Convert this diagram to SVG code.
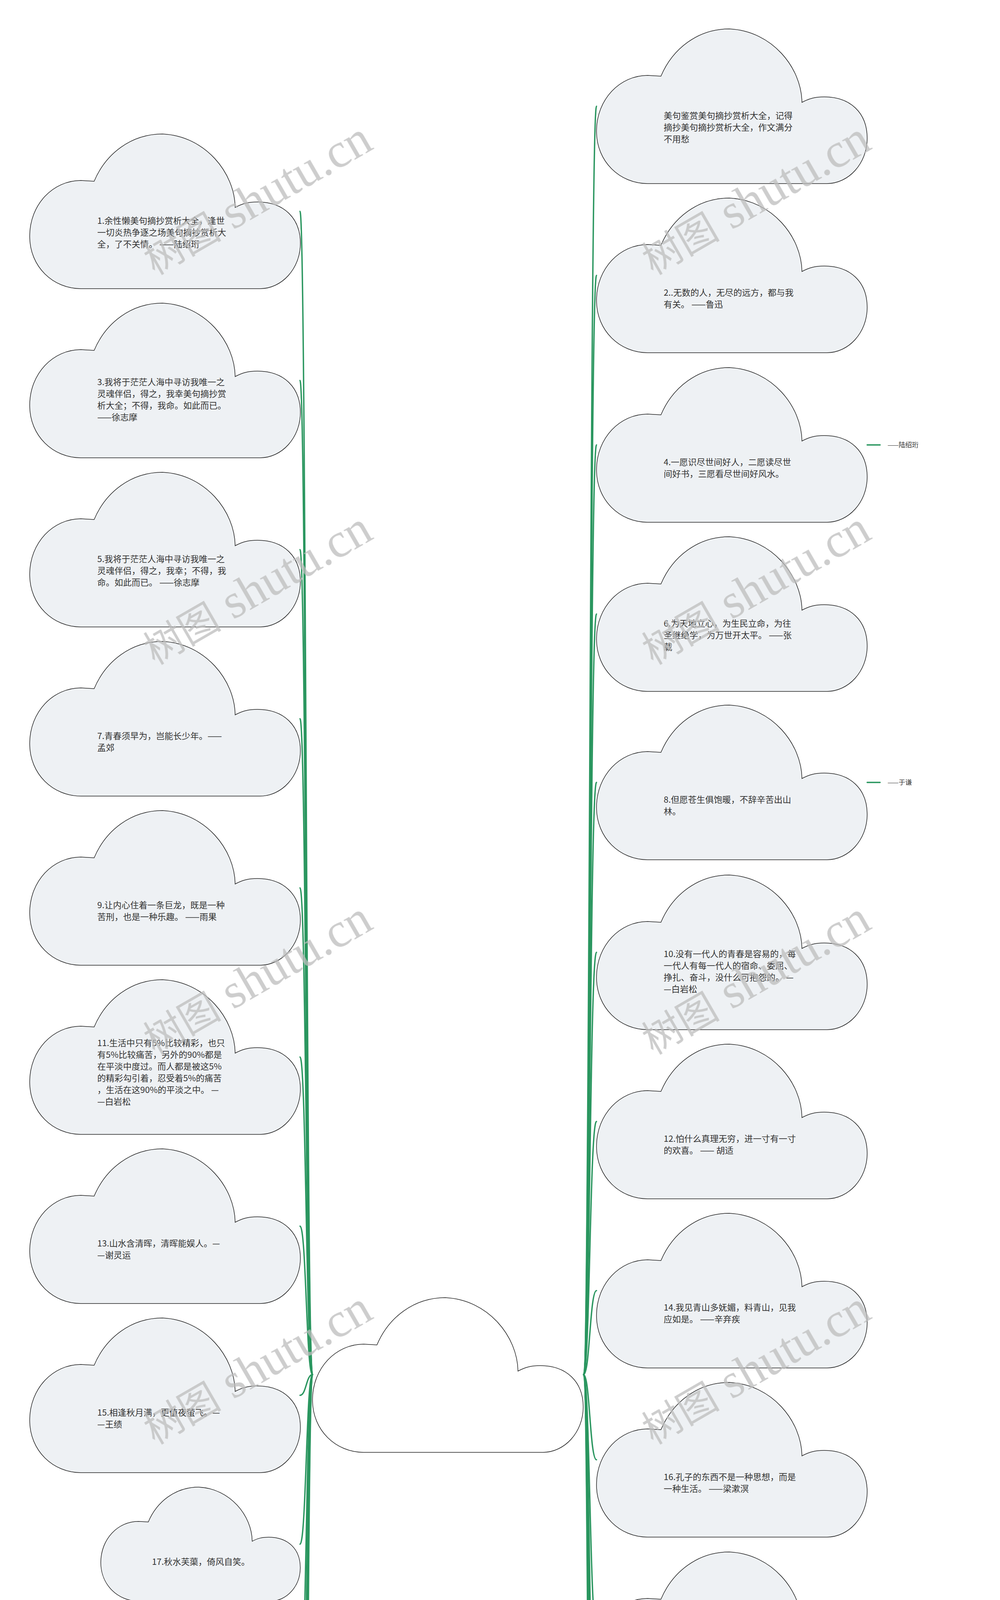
<svg xmlns="http://www.w3.org/2000/svg" xmlns:xlink="http://www.w3.org/1999/xlink" width="2560" height="7040" viewBox="0 0 2560 7040">
<style>
.cl{fill:#eef1f4;stroke:#222;stroke-width:1.5}
.root{fill:#ffffff;stroke:#222;stroke-width:1.5}
.t{font-family:"Noto Sans CJK SC","Liberation Sans",sans-serif;font-size:22px;fill:#333}
.ct{font-family:"Noto Sans CJK SC","Liberation Sans",sans-serif;font-size:17px;fill:#333}
.ln{fill:none;stroke:#2a965f;stroke-width:3.5;stroke-linecap:round}
.wm{fill:#bdbdbd;opacity:0.75}
.wc{font-family:"Noto Sans CJK SC",sans-serif;font-size:100px}
.wl{font-family:"Liberation Serif",serif;font-size:125px}
</style>
<defs>
<path id="cloud" d="M131,396 C60,396 0,340 0,262 C0,180 60,119 131,119 L165,121 C195,50 260,0 340,0 C450,5 525,100 526,188 C545,178 560,174 583,174 C650,174 693,215 693,280 C693,345 645,396 590,396 Z"/>
</defs>
<rect width="2560" height="7040" fill="#ffffff"/>
<g id="connectors">
<path class="ln" d="M800,3519 C784,3519 784,541 768,541"/>
<path class="ln" d="M800,3519 C784,3519 784,974 768,974"/>
<path class="ln" d="M800,3519 C784,3519 784,1407 768,1407"/>
<path class="ln" d="M800,3519 C784,3519 784,1840 768,1840"/>
<path class="ln" d="M800,3519 C784,3519 784,2273 768,2273"/>
<path class="ln" d="M800,3519 C784,3519 784,2706 768,2706"/>
<path class="ln" d="M800,3519 C784,3519 784,3139 768,3139"/>
<path class="ln" d="M800,3519 C784,3519 784,3572 768,3572"/>
<path class="ln" d="M800,3519 C784,3519 784,3953 768,3953"/>
<path class="ln" d="M800,3519 C784,3519 784,4335 768,4335"/>
<path class="ln" d="M800,3519 C784,3519 784,4768 768,4768"/>
<path class="ln" d="M800,3519 C784,3519 784,5201 768,5201"/>
<path class="ln" d="M800,3519 C784,3519 784,5634 768,5634"/>
<path class="ln" d="M800,3519 C784,3519 784,6067 768,6067"/>
<path class="ln" d="M800,3519 C784,3519 784,6500 768,6500"/>
<path class="ln" d="M1494,3519 C1510,3519 1510,272 1527,272"/>
<path class="ln" d="M1494,3519 C1510,3519 1510,705 1527,705"/>
<path class="ln" d="M1494,3519 C1510,3519 1510,1139 1527,1139"/>
<path class="ln" d="M1494,3519 C1510,3519 1510,1572 1527,1572"/>
<path class="ln" d="M1494,3519 C1510,3519 1510,2003 1527,2003"/>
<path class="ln" d="M1494,3519 C1510,3519 1510,2438 1527,2438"/>
<path class="ln" d="M1494,3519 C1510,3519 1510,2871 1527,2871"/>
<path class="ln" d="M1494,3519 C1510,3519 1510,3304 1527,3304"/>
<path class="ln" d="M1494,3519 C1510,3519 1510,3737 1527,3737"/>
<path class="ln" d="M1494,3519 C1510,3519 1510,4171 1527,4171"/>
<path class="ln" d="M1494,3519 C1510,3519 1510,4603 1527,4603"/>
<path class="ln" d="M1494,3519 C1510,3519 1510,5034 1527,5034"/>
<path class="ln" d="M1494,3519 C1510,3519 1510,5468 1527,5468"/>
<path class="ln" d="M1494,3519 C1510,3519 1510,5901 1527,5901"/>
<path class="ln" d="M1494,3519 C1510,3519 1510,6335 1527,6335"/>
<path class="ln" d="M1494,3519 C1510,3519 1510,6768 1527,6768"/>
<path class="ln" d="M2220,1139 L2253,1139"/>
<path class="ln" d="M2220,2003 L2253,2003"/>
<path class="ln" d="M2220,6335 L2253,6335"/>
</g>
<g id="root"><use xlink:href="#cloud" href="#cloud" class="root" transform="translate(800,3322)"/></g>

<g id="node-1"><use href="#cloud" class="cl" transform="translate(76,343)"/>
<text class="t" x="249" y="573"><tspan x="249">1.余性懒美句摘抄赏析大全，逢世</tspan><tspan x="249" dy="30">一切炎热争逐之场美句摘抄赏析大</tspan><tspan x="249" dy="30">全，了不关情。 ——陆绍珩</tspan></text></g>
<g id="node-3"><use href="#cloud" class="cl" transform="translate(76,776)"/>
<text class="t" x="249" y="986"><tspan x="249">3.我将于茫茫人海中寻访我唯一之</tspan><tspan x="249" dy="30">灵魂伴侣，得之，我幸美句摘抄赏</tspan><tspan x="249" dy="30">析大全；不得，我命。如此而已。</tspan><tspan x="249" dy="30">——徐志摩</tspan></text></g>
<g id="node-5"><use href="#cloud" class="cl" transform="translate(76,1209)"/>
<text class="t" x="249" y="1439"><tspan x="249">5.我将于茫茫人海中寻访我唯一之</tspan><tspan x="249" dy="30">灵魂伴侣，得之，我幸；不得，我</tspan><tspan x="249" dy="30">命。如此而已。 ——徐志摩</tspan></text></g>
<g id="node-7"><use href="#cloud" class="cl" transform="translate(76,1642)"/>
<text class="t" x="249" y="1892"><tspan x="249">7.青春须早为，岂能长少年。——</tspan><tspan x="249" dy="30">孟郊</tspan></text></g>
<g id="node-9"><use href="#cloud" class="cl" transform="translate(76,2075)"/>
<text class="t" x="249" y="2325"><tspan x="249">9.让内心住着一条巨龙，既是一种</tspan><tspan x="249" dy="30">苦刑，也是一种乐趣。 ——雨果</tspan></text></g>
<g id="node-11"><use href="#cloud" class="cl" transform="translate(76,2508)"/>
<text class="t" x="249" y="2678"><tspan x="249">11.生活中只有5%比较精彩，也只</tspan><tspan x="249" dy="30">有5%比较痛苦，另外的90%都是</tspan><tspan x="249" dy="30">在平淡中度过。而人都是被这5%</tspan><tspan x="249" dy="30">的精彩勾引着，忍受着5%的痛苦</tspan><tspan x="249" dy="30">，生活在这90%的平淡之中。 —</tspan><tspan x="249" dy="30">—白岩松</tspan></text></g>
<g id="node-13"><use href="#cloud" class="cl" transform="translate(76,2941)"/>
<text class="t" x="249" y="3191"><tspan x="249">13.山水含清晖，清晖能娱人。—</tspan><tspan x="249" dy="30">—谢灵运</tspan></text></g>
<g id="node-15"><use href="#cloud" class="cl" transform="translate(76,3374)"/>
<text class="t" x="249" y="3624"><tspan x="249">15.相逢秋月满，更值夜萤飞。—</tspan><tspan x="249" dy="30">—王绩</tspan></text></g>
<g id="node-17"><use href="#cloud" class="cl" style="stroke-width:2" transform="translate(258,3807) scale(0.737)"/>
<text class="t" x="389" y="4006">17.秋水芙蕖，倚风自笑。</text></g>
<g id="node-19"><use href="#cloud" class="cl" transform="translate(76,4137)"/>
<text class="t" x="249" y="4367"><tspan x="249">19.一尘不染不是没有尘埃，而是尘</tspan><tspan x="249" dy="30">埃任他飞扬，我自做我的阳光。 —</tspan><tspan x="249" dy="30">—林清玄</tspan></text></g>
<g id="node-21"><use href="#cloud" class="cl" transform="translate(76,4570)"/>
<text class="t" x="249" y="4820"><tspan x="249">21.寄意寒星荃不察，我以我血荐轩</tspan><tspan x="249" dy="30">辕。 ——鲁迅</tspan></text></g>
<g id="node-23"><use href="#cloud" class="cl" transform="translate(76,5003)"/>
<text class="t" x="249" y="5250"><tspan x="249">23.数风流人物，还看今朝。 ——</tspan><tspan x="249" dy="30">毛泽东</tspan></text></g>
<g id="node-25"><use href="#cloud" class="cl" transform="translate(76,5436)"/>
<text class="t" x="249" y="5684"><tspan x="249">25.粗缯大布裹天涯，腹有诗书气自</tspan><tspan x="249" dy="30">华。 ——苏轼</tspan></text></g>
<g id="node-27"><use href="#cloud" class="cl" transform="translate(76,5869)"/>
<text class="t" x="249" y="6117"><tspan x="249">27.与其诅咒黑暗，不如点亮灯火。</tspan><tspan x="255" dy="30">——柴静</tspan></text></g>
<g id="node-29"><use href="#cloud" class="cl" transform="translate(76,6302)"/>
<text class="t" x="249" y="6550"><tspan x="249">29.生命不是你活了多少日子，而是</tspan><tspan x="249" dy="30">你记住了多少日子。 ——许渊冲</tspan></text></g>

<g id="node-0"><use href="#cloud" class="cl" transform="translate(1527,74)"/>
<text class="t" x="1699" y="304"><tspan x="1699">美句鉴赏美句摘抄赏析大全，记得</tspan><tspan x="1699" dy="30">摘抄美句摘抄赏析大全，作文满分</tspan><tspan x="1699" dy="30">不用愁</tspan></text></g>
<g id="node-2"><use href="#cloud" class="cl" transform="translate(1527,507)"/>
<text class="t" x="1699" y="757"><tspan x="1699">2..无数的人，无尽的远方，都与我</tspan><tspan x="1699" dy="30">有关。 ——鲁迅</tspan></text></g>
<g id="node-4"><use href="#cloud" class="cl" transform="translate(1527,941)"/>
<text class="t" x="1699" y="1191"><tspan x="1699">4.一愿识尽世间好人，二愿读尽世</tspan><tspan x="1699" dy="30">间好书，三愿看尽世间好风水。</tspan></text></g>
<g id="node-4-1"><text class="ct" x="2272" y="1145">——陆绍珩</text></g>
<g id="node-6"><use href="#cloud" class="cl" transform="translate(1527,1374)"/>
<text class="t" x="1699" y="1604"><tspan x="1699">6.为天地立心，为生民立命，为往</tspan><tspan x="1699" dy="30">圣继绝学，为万世开太平。 ——张</tspan><tspan x="1699" dy="30">载</tspan></text></g>
<g id="node-8"><use href="#cloud" class="cl" transform="translate(1527,1805)"/>
<text class="t" x="1699" y="2055"><tspan x="1699">8.但愿苍生俱饱暖，不辞辛苦出山</tspan><tspan x="1699" dy="30">林。</tspan></text></g>
<g id="node-8-1"><text class="ct" x="2272" y="2009">——于谦</text></g>
<g id="node-10"><use href="#cloud" class="cl" transform="translate(1527,2240)"/>
<text class="t" x="1699" y="2450"><tspan x="1699">10.没有一代人的青春是容易的，每</tspan><tspan x="1699" dy="30">一代人有每一代人的宿命、委屈、</tspan><tspan x="1699" dy="30">挣扎、奋斗，没什么可抱怨的。 —</tspan><tspan x="1699" dy="30">—白岩松</tspan></text></g>
<g id="node-12"><use href="#cloud" class="cl" transform="translate(1527,2673)"/>
<text class="t" x="1699" y="2923"><tspan x="1699">12.怕什么真理无穷，进一寸有一寸</tspan><tspan x="1699" dy="30">的欢喜。 —— 胡适</tspan></text></g>
<g id="node-14"><use href="#cloud" class="cl" transform="translate(1527,3106)"/>
<text class="t" x="1699" y="3355"><tspan x="1699">14.我见青山多妩媚，料青山，见我</tspan><tspan x="1699" dy="30">应如是。 ——辛弃疾</tspan></text></g>
<g id="node-16"><use href="#cloud" class="cl" transform="translate(1527,3539)"/>
<text class="t" x="1699" y="3789"><tspan x="1699">16.孔子的东西不是一种思想，而是</tspan><tspan x="1699" dy="30">一种生活。 ——梁漱溟</tspan></text></g>
<g id="node-18"><use href="#cloud" class="cl" transform="translate(1527,3973)"/>
<text class="t" x="1699" y="4223"><tspan x="1699">18.每个人身上都有太阳，主要是如</tspan><tspan x="1699" dy="30">何让它发光。 ——苏格拉底</tspan></text></g>
<g id="node-20"><use href="#cloud" class="cl" transform="translate(1527,4405)"/>
<text class="t" x="1699" y="4655"><tspan x="1699">20.莫愁前路无知己，天下谁人不识</tspan><tspan x="1699" dy="30">君。 ——高适</tspan></text></g>
<g id="node-22"><use href="#cloud" class="cl" transform="translate(1527,4836)"/>
<text class="t" x="1699" y="5084"><tspan x="1699">22.人可生如蚁而美如神。 ——顾</tspan><tspan x="1699" dy="30">城</tspan></text></g>
<g id="node-24"><use href="#cloud" class="cl" transform="translate(1527,5270)"/>
<text class="t" x="1699" y="5518"><tspan x="1699">24..但愿人长久，千里共婵娟。 —</tspan><tspan x="1699" dy="30">—苏轼</tspan></text></g>
<g id="node-26"><use href="#cloud" class="cl" transform="translate(1527,5703)"/>
<text class="t" x="1699" y="5951"><tspan x="1699">26.莫愁前路无知己，天下谁人不识</tspan><tspan x="1699" dy="30">君。 ——高适</tspan></text></g>
<g id="node-28"><use href="#cloud" class="cl" transform="translate(1527,6137)"/>
<text class="t" x="1699" y="6365"><tspan x="1699">28.过去事已过去了，未来不必预思</tspan><tspan x="1699" dy="30">量。只今便道即今句，梅子熟时栀</tspan><tspan x="1699" dy="30">子香。</tspan></text></g>
<g id="node-28-1"><text class="ct" x="2272" y="6341">——李叔同（弘一法师）</text></g>
<g id="node-30"><use href="#cloud" class="cl" transform="translate(1527,6570)"/>
<text class="t" x="1699" y="6820"><tspan x="1699">30.怕什么真理无穷，进一寸有一寸</tspan><tspan x="1699" dy="30">的欢喜。 ——胡适</tspan></text></g>

<g id="watermarks" class="wm">
<text transform="translate(396,705) rotate(-30)"><tspan class="wc">树图</tspan><tspan class="wl"> shutu.cn</tspan></text>
<text transform="translate(396,1703) rotate(-30)"><tspan class="wc">树图</tspan><tspan class="wl"> shutu.cn</tspan></text>
<text transform="translate(396,2701) rotate(-30)"><tspan class="wc">树图</tspan><tspan class="wl"> shutu.cn</tspan></text>
<text transform="translate(396,3699) rotate(-30)"><tspan class="wc">树图</tspan><tspan class="wl"> shutu.cn</tspan></text>
<text transform="translate(396,4697) rotate(-30)"><tspan class="wc">树图</tspan><tspan class="wl"> shutu.cn</tspan></text>
<text transform="translate(396,5695) rotate(-30)"><tspan class="wc">树图</tspan><tspan class="wl"> shutu.cn</tspan></text>
<text transform="translate(396,6693) rotate(-30)"><tspan class="wc">树图</tspan><tspan class="wl"> shutu.cn</tspan></text>
<text transform="translate(1672,705) rotate(-30)"><tspan class="wc">树图</tspan><tspan class="wl"> shutu.cn</tspan></text>
<text transform="translate(1672,1703) rotate(-30)"><tspan class="wc">树图</tspan><tspan class="wl"> shutu.cn</tspan></text>
<text transform="translate(1672,2701) rotate(-30)"><tspan class="wc">树图</tspan><tspan class="wl"> shutu.cn</tspan></text>
<text transform="translate(1672,3699) rotate(-30)"><tspan class="wc">树图</tspan><tspan class="wl"> shutu.cn</tspan></text>
<text transform="translate(1672,4697) rotate(-30)"><tspan class="wc">树图</tspan><tspan class="wl"> shutu.cn</tspan></text>
<text transform="translate(1672,5695) rotate(-30)"><tspan class="wc">树图</tspan><tspan class="wl"> shutu.cn</tspan></text>
<text transform="translate(1672,6693) rotate(-30)"><tspan class="wc">树图</tspan><tspan class="wl"> shutu.cn</tspan></text>
</g>
</svg>
